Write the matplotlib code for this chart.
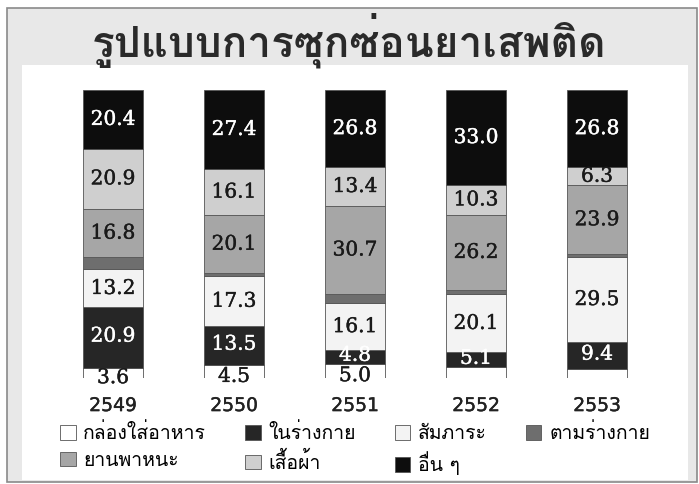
import matplotlib
matplotlib.use("Agg")
import matplotlib.pyplot as plt
import matplotlib.patheffects as pe
from matplotlib import font_manager
from matplotlib.ft2font import FT2Font
from matplotlib.patches import Rectangle
import numpy as np

# ---- data -------------------------------------------------------------
years = ["2549", "2550", "2551", "2552", "2553"]
series_names = ["กล่องใส่อาหาร", "ในร่างกาย", "สัมภาระ", "ตามร่างกาย",
                "ยานพาหนะ", "เสื้อผ้า", "อื่น ๆ"]
food_box = [3.6, 4.5, 5.0, 3.8, 3.1]
in_body = [20.9, 13.5, 4.8, 5.1, 9.4]
luggage = [13.2, 17.3, 16.1, 20.1, 29.5]
on_body = [4.2, 1.1, 3.2, 1.5, 1.0]
vehicle = [16.8, 20.1, 30.7, 26.2, 23.9]
clothes = [20.9, 16.1, 13.4, 10.3, 6.3]
others = [20.4, 27.4, 26.8, 33.0, 26.8]
# which values carry a printed label
food_box_shown = [True, True, True, False, False]
on_body_shown = [False, False, False, False, False]
title = "รูปแบบการซุกซ่อนยาเสพติด"

# ---- font with Thai coverage -----------------------------------------
def find_thai_font():
    for f in font_manager.fontManager.ttflist:
        try:
            cmap = FT2Font(f.fname).get_charmap()
        except Exception:
            continue
        if 0x0E23 in cmap and 0x0E01 in cmap:
            return f.name
    return None

thai = find_thai_font()
families = ([thai] if thai else []) + ["DejaVu Sans"]
plt.rcParams["font.family"] = families

W, H = 699, 484
fig = plt.figure(figsize=(W / 100, H / 100), dpi=100)
fig.patch.set_facecolor("white")

def fx(x):
    return x / W

def fy(y):
    return 1 - y / H

def medium(color, lw=0.3):
    # hairline outline in the text colour for a slightly heavier look
    return [pe.withStroke(linewidth=lw, foreground=color)]

# outer frame and inner panel
fig.patches.append(Rectangle((fx(7), fy(482)), fx(690), 474 / H,
                             transform=fig.transFigure, facecolor="#e8e8e8",
                             edgecolor="#8a8a8a", linewidth=1.2, zorder=-2))
fig.patches.append(Rectangle((fx(22), fy(480)), fx(666), 415 / H,
                             transform=fig.transFigure, facecolor="white",
                             edgecolor="none", zorder=-1))

fig.text(0.5, fy(40), title, ha="center", va="center", fontsize=30.5,
         fontweight="bold", color="#2a2a2a", family=families)

# ---- stacked bars ----------------------------------------------------
ax = fig.add_axes([fx(52.5), fy(378), fx(605), 288 / H], zorder=2)
ax.set_facecolor("none")
x = np.arange(len(years))
series = [food_box, in_body, luggage, on_body, vehicle, clothes, others]
shown = [food_box_shown, [True] * 5, [True] * 5, on_body_shown,
         [True] * 5, [True] * 5, [True] * 5]
colors = ["#ffffff", "#262626", "#f3f3f3", "#6e6e6e", "#a6a6a6",
          "#cfcfcf", "#0d0d0d"]
text_colors = ["#1a1a1a", "white", "#1a1a1a", "white", "#1a1a1a",
               "#1a1a1a", "white"]
# small vertical nudge (points) of each series' labels
label_shift = [-3.5, 1, 0, 0, 0, 0, 0]

bottom = np.zeros(len(years))
containers = []
for vals, flags, col, tcol, dy, name in zip(series, shown, colors,
                                            text_colors, label_shift,
                                            series_names):
    bc = ax.bar(x, vals, width=0.5, bottom=bottom, color=col,
                edgecolor="#555555", linewidth=0.6, label=name)
    labels = [f"{v:.1f}" if f else "" for v, f in zip(vals, flags)]
    anns = ax.bar_label(bc, labels=labels, label_type="center", color=tcol,
                        fontsize=14.5, family="DejaVu Serif")
    for a in anns:
        a.xyann = (0, dy)
        a.set_path_effects(medium(tcol))
    containers.append(bc)
    bottom = bottom + np.array(vals)

ax.set_xlim(-0.5, len(years) - 0.5)
ax.set_ylim(0, 100)
ax.set_yticks([])
ax.set_xticks(x)
ax.set_xticklabels(years, fontsize=13.5, color="#222222",
                   family="DejaVu Sans")
for t in ax.get_xticklabels():
    t.set_path_effects(medium("#222222"))
ax.tick_params(axis="x", length=0, pad=13)
for s in ax.spines.values():
    s.set_visible(False)

# legend filled row by row (matplotlib fills columns first)
order = [0, 4, 1, 5, 2, 6, 3]
leg = fig.legend(handles=[containers[i] for i in order],
                 labels=[series_names[i] for i in order], ncol=4,
                 loc="upper left", bbox_to_anchor=(fx(60), fy(423)),
                 frameon=False, fontsize=14, handlelength=0.8,
                 handleheight=0.8, handletextpad=0.4, columnspacing=2.0,
                 labelspacing=0.45, borderaxespad=0, borderpad=0)

fig.savefig("out.png", dpi=100)
